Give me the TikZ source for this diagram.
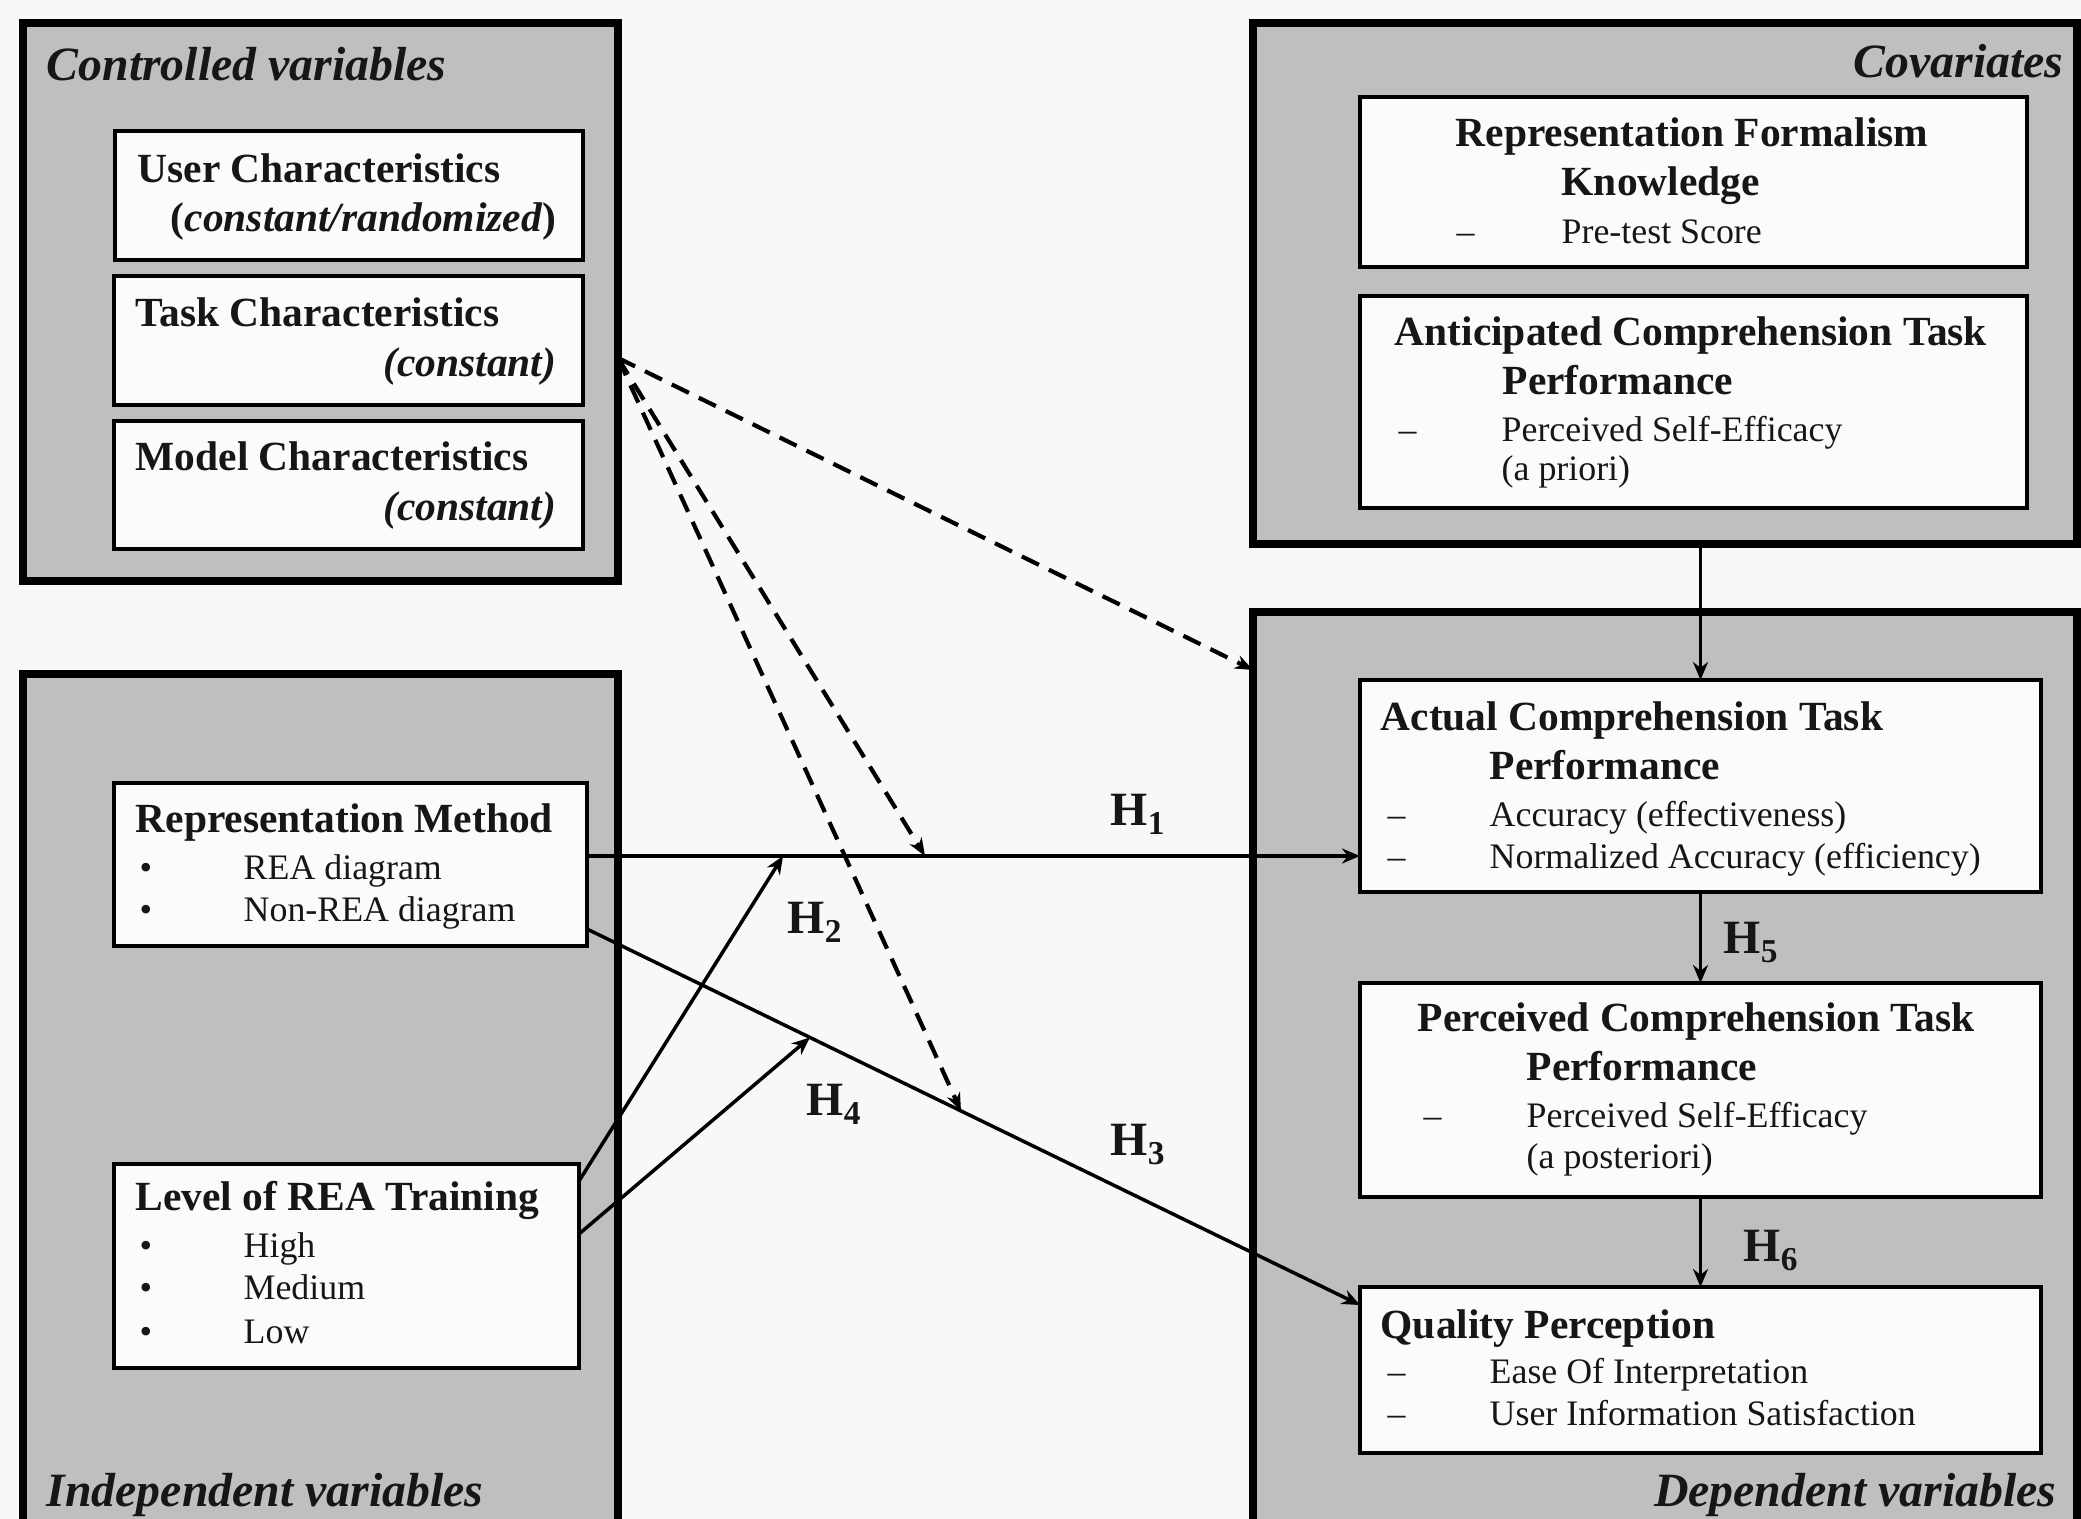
\documentclass[tikz,border=0pt]{standalone}
\usepackage{fontspec}
\setmainfont{Liberation Serif}
\usetikzlibrary{arrows.meta,calc}
\definecolor{panelgray}{RGB}{191,191,191}
\definecolor{boxwhite}{RGB}{251,251,251}
\definecolor{pagebg}{RGB}{248,248,248}
\definecolor{ink}{RGB}{22,22,22}
% rectangle node given by its border centre-lines: name, left, top, right, bottom, style
\newcommand\placebox[6]{\node[#6, minimum width={(#4-#2)*0.284528pt}, minimum height={(#5-#3)*0.284528pt}] (#1) at ({(#2+#4)/2},{(#3+#5)/2}) {};}
\newcommand\hsub[2]{#1\raisebox{-0.45ex}{\fontsize{9.5}{10}\selectfont #2}}
\begin{document}
\begin{tikzpicture}[x=0.1mm,y=-0.1mm,
  panel/.style={draw=black, line width=0.8mm, fill=panelgray, rectangle, inner sep=0pt, outer sep=0pt},
  varbox/.style={draw=black, line width=0.42mm, fill=boxwhite, rectangle, inner sep=0pt, outer sep=0pt},
  lbl/.style={inner sep=0pt, anchor=base west, text=ink},
  rlbl/.style={inner sep=0pt, anchor=base east, text=ink},
  paneltitle/.style={font=\fontsize{13.6}{16}\selectfont\bfseries\itshape},
  head/.style={font=\fontsize{11.8}{14}\selectfont\bfseries},
  item/.style={font=\fontsize{10.2}{12}\selectfont},
  hyp/.style={inner sep=0pt, anchor=base west, text=ink, font=\fontsize{13.6}{16}\selectfont\bfseries},
  conn/.style={line width=0.35mm, -{Stealth[length=1.8mm,width=1.5mm]}},
  ctrlarrow/.style={line width=0.42mm, dash pattern=on 1.9mm off 1.1mm, -{Stealth[length=1.8mm,width=1.4mm]}},
]
\useasboundingbox (0,0) rectangle (2081,1519);
\clip (0,0) rectangle (2081,1519);
\fill[pagebg] (0,0) rectangle (2081,1519);

% panels
\placebox{ctl}{23}{23}{618}{581}{panel}
\placebox{cov}{1253}{23}{2077}{544}{panel}
\placebox{ind}{23}{674}{618}{1545}{panel}
\placebox{dep}{1253}{612}{2077}{1545}{panel}

% variable boxes
\placebox{user}{115}{131}{583}{260}{varbox}
\placebox{task}{114}{276}{583}{405}{varbox}
\placebox{model}{114}{421}{583}{549}{varbox}
\placebox{rfk}{1360}{97}{2027}{267}{varbox}
\placebox{acp}{1360}{296}{2027}{508}{varbox}
\placebox{repm}{114}{783}{587}{946}{varbox}
\placebox{level}{114}{1164}{579}{1368}{varbox}
\placebox{act}{1360}{680}{2041}{892}{varbox}
\placebox{perc}{1360}{983}{2041}{1197}{varbox}
\placebox{qual}{1360}{1287}{2041}{1453}{varbox}

% panel titles
\node[lbl,paneltitle] (tctl) at (46,80) {Controlled variables};
\node[rlbl,paneltitle] (tcov) at (2064,77) {Covariates};
\node[lbl,paneltitle] (tind) at (46,1506) {Independent variables};
\node[rlbl,paneltitle] (tdep) at (2057,1506) {Dependent variables};

% controlled variables
\node[lbl,head] (tuser) at (137,182) {User Characteristics};
\node[rlbl,head] (tuser2) at (557,231) {(\textit{constant/randomized})};
\node[lbl,head] (ttask) at (135,326) {Task Characteristics};
\node[rlbl,head] (ttask2) at (557,376) {\textit{(constant)}};
\node[lbl,head] (tmodel) at (135,470) {Model Characteristics};
\node[rlbl,head] (tmodel2) at (557,520) {\textit{(constant)}};

% covariates
\node[lbl,head] (trfk) at (1455,146) {Representation Formalism};
\node[lbl,head] (trfk2) at (1561,195) {Knowledge};
\node[lbl,item] (drfk) at (1456,243) {–};
\node[lbl,item] (irfk) at (1561,243) {Pre-test Score};
\node[lbl,head] (tacp) at (1394,345) {Anticipated Comprehension Task};
\node[lbl,head] (tacp2) at (1502,394) {Performance};
\node[lbl,item] (dacp) at (1398,441) {–};
\node[lbl,item] (iacp) at (1501,441) {Perceived Self-Efficacy};
\node[lbl,item] (iacp2) at (1501,480) {(a priori)};

% independent variables
\node[lbl,head] (trepm) at (135,832) {Representation Method};
\node[lbl,item] (brepm1) at (139,879) {•};
\node[lbl,item] (irepm1) at (243,879) {REA diagram};
\node[lbl,item] (brepm2) at (139,921) {•};
\node[lbl,item] (irepm2) at (243,921) {Non-REA diagram};
\node[lbl,head] (tlevel) at (135,1210) {Level of REA Training};
\node[lbl,item] (blev1) at (139,1257) {•};
\node[lbl,item] (ilev1) at (243,1257) {High};
\node[lbl,item] (blev2) at (139,1299) {•};
\node[lbl,item] (ilev2) at (243,1299) {Medium};
\node[lbl,item] (blev3) at (139,1343) {•};
\node[lbl,item] (ilev3) at (243,1343) {Low};

% dependent variables
\node[lbl,head] (tact) at (1380,730) {Actual Comprehension Task};
\node[lbl,head] (tact2) at (1489,779) {Performance};
\node[lbl,item] (dact1) at (1387,826) {–};
\node[lbl,item] (iact1) at (1489,826) {Accuracy (effectiveness)};
\node[lbl,item] (dact2) at (1387,868) {–};
\node[lbl,item] (iact2) at (1489,868) {Normalized Accuracy (efficiency)};
\node[lbl,head] (tperc) at (1417,1031) {Perceived Comprehension Task};
\node[lbl,head] (tperc2) at (1526,1080) {Performance};
\node[lbl,item] (dperc) at (1423,1127) {–};
\node[lbl,item] (iperc) at (1526,1127) {Perceived Self-Efficacy};
\node[lbl,item] (iperc2) at (1526,1168) {(a posteriori)};
\node[lbl,head] (tqual) at (1380,1338) {Quality Perception};
\node[lbl,item] (dqual1) at (1387,1383) {–};
\node[lbl,item] (iqual1) at (1489,1383) {Ease Of Interpretation};
\node[lbl,item] (dqual2) at (1387,1425) {–};
\node[lbl,item] (iqual2) at (1489,1425) {User Information Satisfaction};

% connector end points
\coordinate (h1s) at ($(repm.east)+(0,-8.5)$);
\coordinate (h3s) at ($(repm.east)+(0,64.5)$);
\coordinate (h3e) at ($(qual.west)+(0,-65)$);
\coordinate (h2s) at ($(level.east)+(0,-85)$);
\coordinate (h4s) at ($(level.east)+(0,-32)$);
\coordinate (h1e) at (h1s -| act.west);
\coordinate (h2e) at ($(h1s)!0.2536!(h1e)$);
\coordinate (h4e) at ($(h3s)!0.2885!(h3e)$);
\coordinate (csrc) at ($(ctl.east)+(0,56)$);
\coordinate (cdep) at ($(dep.north west)+(0,58)$);
\coordinate (ch1) at ($(h1s)!0.4373!(h1e)$);
\coordinate (ch3) at ($(h3s)!0.4838!(h3e)$);

% hypotheses
\draw[conn] (h1s) -- (h1e);
\draw[conn] (h3s) -- (h3e);
\draw[conn] (h2s) -- (h2e);
\draw[conn] (h4s) -- (h4e);
\draw[conn] (cov.south -| act.north) -- (act.north);
\draw[conn] (act.south) -- (perc.north);
\draw[conn] (perc.south) -- (qual.north);

% control effects
\draw[ctrlarrow] (csrc) -- (cdep);
\draw[ctrlarrow] (csrc) -- (ch1);
\draw[ctrlarrow] (csrc) -- (ch3);

% hypothesis labels
\node[hyp] (lh1) at (1110,825) {\hsub{H}{1}};
\node[hyp] (lh2) at (787,933) {\hsub{H}{2}};
\node[hyp] (lh3) at (1110,1155) {\hsub{H}{3}};
\node[hyp] (lh4) at (806,1115) {\hsub{H}{4}};
\node[hyp] (lh5) at (1723,953) {\hsub{H}{5}};
\node[hyp] (lh6) at (1743,1261) {\hsub{H}{6}};
\end{tikzpicture}
\end{document}
